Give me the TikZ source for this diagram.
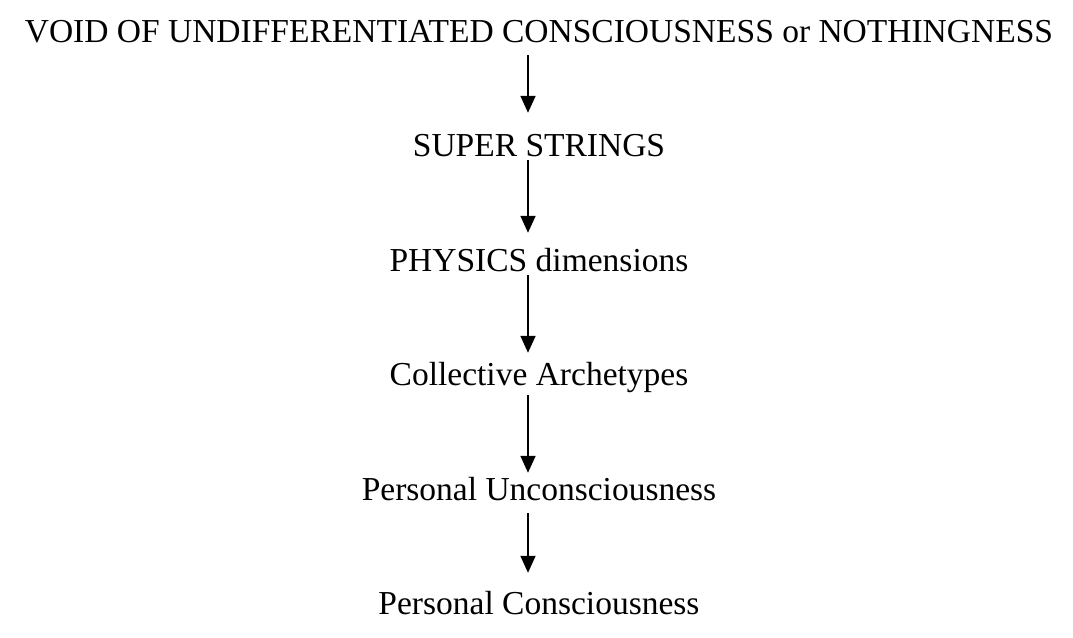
\documentclass[tikz,border=0pt]{standalone}
\usepackage{fontspec}
\setmainfont{Liberation Serif}
\usepackage{tikz}
\usetikzlibrary{arrows.meta, positioning}
\tikzstyle{arrow} = [
  -{Triangle[length=17pt, width=15pt]}, line width=1.7pt, color=black
]

\begin{document}
\begin{tikzpicture}[
  x=1pt, y=1pt,
  node distance=114.5pt, on grid,
  every node/.style={font=\fontsize{33.5}{40}\selectfont},
  level/.style={inner sep=0pt, text height=23.5pt, text depth=7.4pt},
]
  \useasboundingbox (0,0) rectangle (1073,-637);
  \node[level] (void)   at (539,-33.95) {VOID OF UNDIFFERENTIATED CONSCIOUSNESS or NOTHINGNESS};
  \node[level, below=of void]     (strings) {SUPER STRINGS};
  \node[level, below=of strings]  (physics) {PHYSICS dimensions};
  \node[level, below=of physics]  (archetypes) {Collective Archetypes};
  \node[level, below=of archetypes] (unconscious) {Personal Unconsciousness};
  \node[level, below=of unconscious] (conscious) {Personal Consciousness};

  \draw[arrow, shorten <=5.6pt, shorten >=20pt]
    ([xshift=-11pt]void.south) -- ([xshift=-11pt]strings.north);
  \draw[arrow, shorten <=-3.9pt, shorten >=14.5pt]
    ([xshift=-11pt]strings.south) -- ([xshift=-11pt]physics.north);
  \draw[arrow, shorten <=-3.4pt, shorten >=9pt]
    ([xshift=-11pt]physics.south) -- ([xshift=-11pt]archetypes.north);
  \draw[arrow, shorten <=2.1pt, shorten >=3.5pt]
    ([xshift=-11pt]archetypes.south) -- ([xshift=-11pt]unconscious.north);
  \draw[arrow, shorten <=5.6pt, shorten >=18pt]
    ([xshift=-11pt]unconscious.south) -- ([xshift=-11pt]conscious.north);
\end{tikzpicture}
\end{document}
